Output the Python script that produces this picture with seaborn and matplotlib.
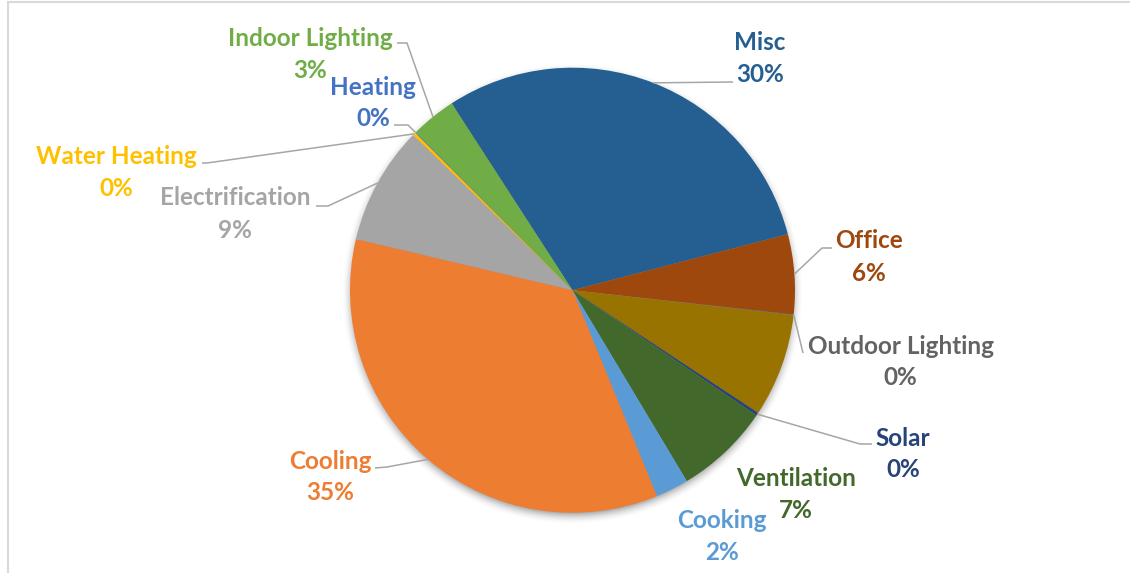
import numpy as np
import matplotlib
matplotlib.use("Agg")
import matplotlib.pyplot as plt
from matplotlib.patches import Rectangle
import seaborn as sns

# Share of energy use by end use (percent)
categories = ["Misc", "Office", "Outdoor Lighting", "", "Solar", "Ventilation",
              "Cooking", "Cooling", "Electrification", "Water Heating",
              "Heating", "Indoor Lighting"]
shares = [30.1, 5.8, 0.05, 7.5, 0.22, 6.9, 2.4, 34.9, 8.6, 0.22, 0.05, 3.3]
colors = ["#255E91", "#9E480E", "#636363", "#997300", "#264478", "#43682B",
          "#5B9BD5", "#ED7D31", "#A5A5A5", "#FFC000", "#4472C4", "#70AD47"]

sns.set_theme(style="white")
plt.rcParams["font.family"] = ["Lato", "DejaVu Sans"]

W, H = 1130, 573
fig = plt.figure(figsize=(W / 100, H / 100), dpi=100)
fig.patch.set_facecolor("white")
ax = fig.add_axes([0, 0, 1, 1])

center = (572.5, 290.2)
radius = 222.5

# soft drop shadow under the pie
yy, xx = np.mgrid[0:H, 0:W] + 0.5
d = np.hypot(xx - center[0], yy - (center[1] + 3.5))
a = np.clip(1 - (d - (radius - 5)) / 14.0, 0, 1) ** 2 * 0.42
shadow = np.zeros((H, W, 4))
shadow[..., 3] = a
ax.imshow(shadow, extent=(0, W, H, 0), zorder=0, interpolation="bilinear")

wedges, _ = ax.pie(shares, colors=colors, startangle=237.1, counterclock=True,
                   center=center, radius=radius,
                   wedgeprops=dict(linewidth=0, antialiased=True))
for w in wedges:
    w.set_zorder(2)

ax.set_xlim(0, W)
ax.set_ylim(H, 0)
ax.set_aspect("equal")
ax.axis("off")

# label placement: centre x, baseline of name, baseline of percent
label_pos = {
    "Misc": (760, 50, 81.5),
    "Office": (869, 248.5, 281),
    "Outdoor Lighting": (900.5, 353.5, 385),
    "Solar": (903, 445.5, 477),
    "Ventilation": (796, 486, 518),
    "Cooking": (722, 528.5, 560),
    "Cooling": (330, 469, 500),
    "Electrification": (235, 205, 238),
    "Water Heating": (116.5, 164, 196),
    "Heating": (373, 95, 126),
    "Indoor Lighting": (310, 46.5, 78),
}
# leader line vertices from the label side; last point is the slice rim
leader_pts = {
    "Misc": [(733, 82)],
    "Office": [(832, 248), (822, 248)],
    "Outdoor Lighting": [(803, 353)],
    "Solar": [(872, 444), (860, 444)],
    "Cooling": [(375, 468), (387, 467)],
    "Electrification": [(316, 206), (328, 206)],
    "Water Heating": [(202, 163), (207, 163)],
    "Heating": [(394, 125), (408, 125)],
    "Indoor Lighting": [(397, 43), (407, 43)],
}

for name, val, col, w in zip(categories, shares, colors, wedges):
    if not name:
        continue
    cx, yb1, yb2 = label_pos[name]
    pct = f"{int(np.floor(val + 0.5))}%"
    ax.text(cx, yb1, name, color=col, fontsize=17.5, fontweight="bold",
            ha="center", va="baseline", zorder=5)
    ax.text(cx, yb2, pct, color=col, fontsize=17.5, fontweight="bold",
            ha="center", va="baseline", zorder=5)
    if name in leader_pts:
        if name == "Outdoor Lighting":
            ang = np.deg2rad(w.theta1)
        else:
            ang = np.deg2rad((w.theta1 + w.theta2) / 2)
        rim = (center[0] + radius * np.cos(ang), center[1] + radius * np.sin(ang))
        pts = leader_pts[name] + [rim]
        xs, ys = zip(*pts)
        ax.plot(xs, ys, color="#A6A6A6", lw=1.1, zorder=4,
                solid_capstyle="butt")

# chart area border
fig.patches.append(Rectangle((7.5 / W, -0.1), 1.2, (H - 2.3) / H + 0.1,
                             transform=fig.transFigure, fill=False,
                             edgecolor="#D9D9D9", lw=1.5))

fig.savefig("out.png", dpi=100, facecolor="white")
